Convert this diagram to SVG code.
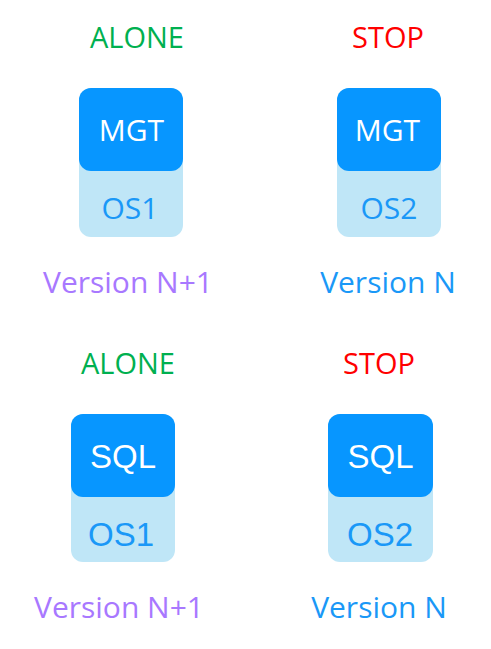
<svg xmlns="http://www.w3.org/2000/svg" width="491" height="649" viewBox="0 0 491 649">
<style>
.lt{fill:#BFE6F7}
.dk{fill:#0796FF}
.seg{font-family:"Open Sans","Noto Sans",sans-serif;text-anchor:middle}
.ar{font-family:"Liberation Sans",Arial,sans-serif;text-anchor:middle}
.green{fill:#00B050;font-size:29px}
.red{fill:#FF0000;font-size:29px}
.w{fill:#FFFFFF}
.os{fill:#1A98F7}
.pur{fill:#A878FF;font-size:30px}
.blu{fill:#1A98F7;font-size:30px}
</style>
<rect width="491" height="649" fill="#FFFFFF"/>
<g id="node-mgt1">
<text class="seg green" x="137" y="48">ALONE</text>
<rect class="lt" x="79" y="88" width="104" height="149" rx="12"/>
<rect class="dk" x="79" y="88" width="104" height="83" rx="12"/>
<text class="seg w" x="131.5" y="141" font-size="30">MGT</text>
<text class="seg os" x="130" y="219" font-size="30">OS1</text>
<text class="seg pur" x="128" y="293">Version N+1</text>
</g>
<g id="node-mgt2">
<text class="seg red" x="388" y="48">STOP</text>
<rect class="lt" x="337" y="88" width="104" height="149" rx="12"/>
<rect class="dk" x="337" y="88" width="104" height="83" rx="12"/>
<text class="seg w" x="387.5" y="141" font-size="30">MGT</text>
<text class="seg os" x="389" y="219" font-size="30">OS2</text>
<text class="seg blu" x="388" y="293">Version N</text>
</g>
<g id="node-sql1">
<text class="seg green" x="128" y="374">ALONE</text>
<rect class="lt" x="71" y="414" width="104" height="148" rx="12"/>
<rect class="dk" x="71" y="414" width="104" height="83" rx="12"/>
<text class="ar w" x="123" y="468" font-size="33">SQL</text>
<text class="ar os" x="121" y="546" font-size="33">OS1</text>
<text class="seg pur" x="119" y="618">Version N+1</text>
</g>
<g id="node-sql2">
<text class="seg red" x="379" y="374">STOP</text>
<rect class="lt" x="328" y="414" width="105" height="148" rx="12"/>
<rect class="dk" x="328" y="414" width="105" height="83" rx="12"/>
<text class="ar w" x="380.5" y="468" font-size="33">SQL</text>
<text class="ar os" x="380" y="546" font-size="33">OS2</text>
<text class="seg blu" x="379" y="618">Version N</text>
</g>
<g id="connectors"/>
</svg>
